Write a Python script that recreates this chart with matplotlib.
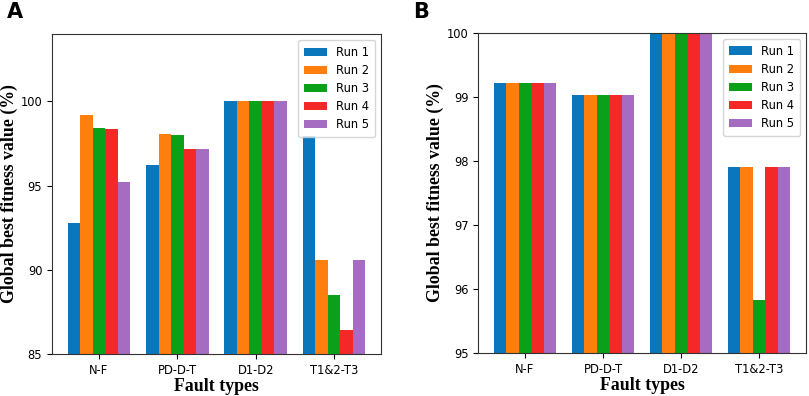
import matplotlib
matplotlib.use('Agg')
import matplotlib.pyplot as plt
import numpy as np

fault_types = ['N-F', 'PD-D-T', 'D1-D2', 'T1&2-T3']
runs = ['Run 1', 'Run 2', 'Run 3', 'Run 4', 'Run 5']

# panel A: values per run, one entry per fault type
a_run1 = [92.80, 96.21, 100.0, 97.92]
a_run2 = [99.20, 98.06, 100.0, 90.60]
a_run3 = [98.43, 97.98, 100.0, 88.51]
a_run4 = [98.37, 97.16, 100.0, 86.43]
a_run5 = [95.24, 97.16, 100.0, 90.60]

# panel B
b_run1 = [99.22, 99.03, 100.0, 97.91]
b_run2 = [99.22, 99.03, 100.0, 97.91]
b_run3 = [99.22, 99.03, 100.0, 95.83]
b_run4 = [99.22, 99.03, 100.0, 97.91]
b_run5 = [99.22, 99.03, 100.0, 97.91]

colors = ['#0a77bd', '#ff7f0e', '#0aa01a', '#f52828', '#a56cc1']

fig = plt.figure(figsize=(8.09, 3.96), dpi=100)
ax_a = fig.add_axes([0.0643, 0.106, 0.4067, 0.808])
ax_b = fig.add_axes([0.591, 0.1086, 0.4054, 0.808])

x = np.arange(len(fault_types))
w = 0.16


def draw(ax, data, ylim, yticks):
    for i, vals in enumerate(data):
        ax.bar(x + (i - 2) * w, vals, w, color=colors[i], label=runs[i])
    ax.set_xlim(-0.6, 3.6)
    ax.set_ylim(*ylim)
    ax.set_yticks(yticks)
    ax.set_xticks(x)
    ax.set_xticklabels(fault_types)
    ax.tick_params(labelsize=8.3)
    for s in ax.spines.values():
        s.set_color('#333333')
    ax.set_xlabel('Fault types', fontsize=12.8, fontweight='bold',
                  family='Liberation Serif', labelpad=1)
    ax.set_ylabel('Global best fitness value (%)', fontsize=12.8,
                  fontweight='bold', family='Liberation Serif', labelpad=2)
    ax.legend(loc='upper right', fontsize=8.3, borderaxespad=0.5,
              borderpad=0.5, labelspacing=0.45, fancybox=True)


draw(ax_a, [a_run1, a_run2, a_run3, a_run4, a_run5], (85, 104), [85, 90, 95, 100])
draw(ax_b, [b_run1, b_run2, b_run3, b_run4, b_run5], (95, 100), [95, 96, 97, 98, 99, 100])

fig.text(0.008, 0.995, 'A', fontsize=15, fontweight='bold', va='top')
fig.text(0.511, 0.995, 'B', fontsize=15, fontweight='bold', va='top')

plt.savefig('out.png', dpi=100)
